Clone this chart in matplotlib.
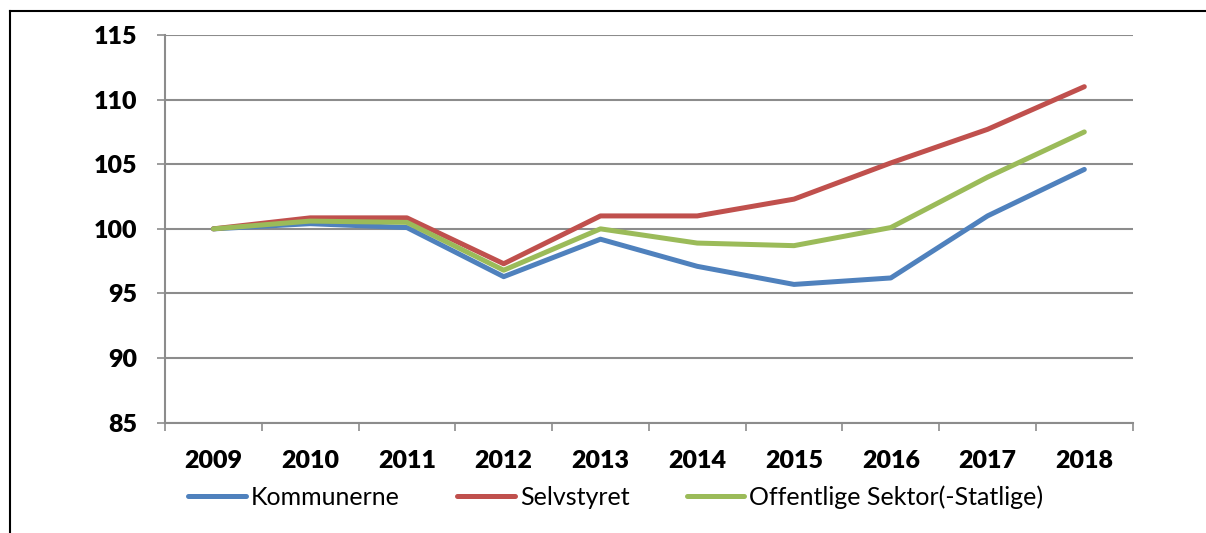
import numpy as np
import matplotlib
matplotlib.use("Agg")
import matplotlib.pyplot as plt
from matplotlib.lines import Line2D

years = ["2009", "2010", "2011", "2012", "2013", "2014", "2015", "2016", "2017", "2018"]
kommunerne = [100.0, 100.4, 100.1, 96.3, 99.2, 97.1, 95.7, 96.2, 101.0, 104.6]
selvstyret = [100.0, 100.85, 100.85, 97.3, 101.0, 101.0, 102.3, 105.1, 107.7, 111.0]
offentlige = [100.0, 100.6, 100.5, 96.8, 100.0, 98.9, 98.7, 100.1, 104.0, 107.5]
labels = ["Kommunerne", "Selvstyret", "Offentlige Sektor(-Statlige)"]
colors = ["#4F81BD", "#C0504D", "#9BBB59"]

plt.rcParams['font.family'] = ['Lato', 'DejaVu Sans']

fig = plt.figure(figsize=(12.06, 5.33), dpi=100)
ax = fig.add_axes([165/1206, 1-422.7/533, (1132.7-165)/1206, (422.7-35)/533])

x = np.arange(len(years))
for ys, c, lab in zip([kommunerne, selvstyret, offentlige], colors, labels):
    ax.plot(x, ys, color=c, lw=3.6, solid_capstyle='round', solid_joinstyle='round', label=lab)

grid_c = "#8c8c8c"
ax.set_xlim(-0.5, len(years) - 0.5)
ax.set_ylim(85, 115)
ax.set_yticks(np.arange(85, 116, 5))
ax.yaxis.grid(True, color=grid_c, lw=1.5)
ax.set_axisbelow(True)

# category boundaries as major ticks, labels at centres
ax.set_xticks(np.arange(-0.5, len(years), 1))
ax.set_xticklabels([])
ax.set_xticks(x, minor=True)
ax.set_xticklabels(years, minor=True, fontsize=18, fontweight='heavy')
ax.tick_params(axis='x', which='major', length=6, width=1.2, color=grid_c)
ax.tick_params(axis='x', which='minor', length=0, pad=20)
ax.tick_params(axis='y', length=6, width=1.2, color=grid_c, pad=14, labelsize=18)
for t in ax.get_yticklabels():
    t.set_fontweight('heavy')

for s in ['top', 'right']:
    ax.spines[s].set_visible(False)
for s in ['left', 'bottom']:
    ax.spines[s].set_color(grid_c)
    ax.spines[s].set_linewidth(1.5)

fig.legend(loc='center', bbox_to_anchor=(616/1206, 1-497/533), ncol=3, frameon=False,
           fontsize=18, handlelength=2.3, handletextpad=0.2, columnspacing=2.3)

# outer frame
fx = 10/1206
fy = 1 - 11/533
fig.add_artist(Line2D([fx, fx], [0, fy], color='black', lw=1.5, transform=fig.transFigure))
fig.add_artist(Line2D([fx, 1], [fy, fy], color='black', lw=1.5, transform=fig.transFigure))

fig.savefig("out.png", dpi=100)
